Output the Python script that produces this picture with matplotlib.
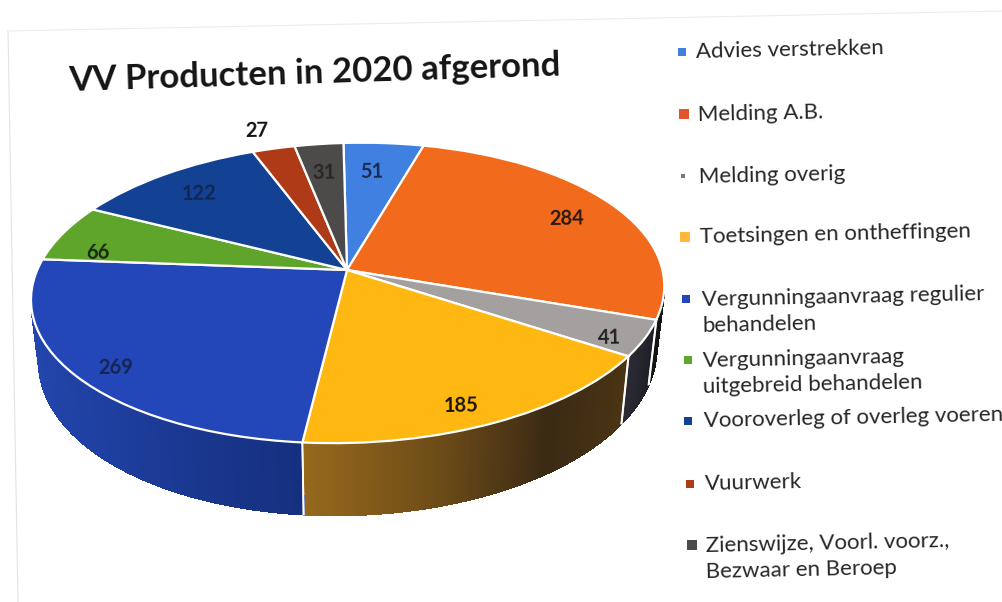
import numpy as np
import matplotlib
matplotlib.use("Agg")
import matplotlib.pyplot as plt
from matplotlib.collections import PolyCollection
from matplotlib.colors import LinearSegmentedColormap
from matplotlib.transforms import Transform

plt.rcParams['font.family'] = ['Lato', 'DejaVu Sans']

# data
categories = ["Advies verstrekken", "Melding A.B.", "Melding overig",
              "Toetsingen en ontheffingen", "Vergunningaanvraag regulier\nbehandelen",
              "Vergunningaanvraag\nuitgebreid behandelen", "Vooroverleg of overleg voeren",
              "Vuurwerk", "Zienswijze, Voorl. voorz.,\nBezwaar en Beroep"]
values = [51, 284, 41, 185, 269, 66, 122, 27, 31]
colors = ["#3f80e0", "#f26a1b", "#a5a0a0", "#ffb812", "#2347b8",
          "#5fa52b", "#134193", "#ae3a17", "#4d4a4a"]
side_colors = [None, ["#141414", "#141414"], ["#2c2c36", "#1e1e26"],
               ["#96691c", "#6f4d18", "#3b2a14", "#4a3413"],
               ["#2448b2", "#1f3f9f", "#15307f"], None, None, None, None]
label_xy = [(372, 172), (567, 219), (609, 338), (461, 406), (116, 368),
            (98, 253), (199, 194), (257, 131), (324, 173)]
label_colors = ["#1c2a50", "#2a1a10", "#222222", "#1a1408", "#16244f",
                "#1a2a10", "#12264f", "#111111", "#2a2626"]
legend_txt_xy = [(696, 52), (698, 115), (699, 177), (700, 237), (702, 313),
                 (703, 374), (704, 421), (705, 484), (706, 559)]
legend_mark_xy = [(682, 52), (684, 114), (683, 176), (685, 237), (686, 299),
                  (688, 360), (688, 421), (690, 484), (692, 545)]
legend_mark_size = [36, 50, 8, 50, 36, 36, 36, 36, 45]
legend_mark_col = ["#3f80e0", "#e2552a", "#777777", "#ffb83a", "#2347b8",
                   "#5fa52b", "#134193", "#ae3a17", "#4d4a4a"]

APEX = (347, 270)
RX, RY, K = 313, 146.5, 0.153
ROT = np.radians(1.6)


def project(x, y, drop=0.0, shrink=1.0):
    den = 1 + K * y
    px = RX * x * shrink / den
    py = -RY * y / den
    sx = APEX[0] + px * np.cos(ROT) + py * np.sin(ROT)
    sy = APEX[1] - px * np.sin(ROT) + py * np.cos(ROT) + drop
    return sx, sy


class Tilt(Transform):
    input_dims = 2
    output_dims = 2

    def transform_non_affine(self, pts):
        pts = np.asarray(pts)
        sx, sy = project(pts[:, 0], pts[:, 1])
        return np.column_stack([sx, sy])


fig = plt.figure(figsize=(10.03, 6.02), dpi=100)
ax = fig.add_axes([0, 0, 1, 1])
wedges, _ = ax.pie(values, colors=colors, startangle=90, counterclock=False,
                   radius=1, center=(0, 0),
                   wedgeprops=dict(edgecolor="white", linewidth=1.6))
ax.set_aspect("auto")
ax.set_xlim(0, 1003)
ax.set_ylim(602, 0)
ax.axis("off")

tilt = Tilt() + ax.transData
for w in wedges:
    w.set_transform(tilt)
    w.set_zorder(5)


def side_point(th):
    x, y = np.cos(th), np.sin(th)
    return project(x, y), project(x, y, drop=60 - 12 * y, shrink=0.975)


# front wall of the disc
CUT = -0.2
for w, sc in zip(wedges, side_colors):
    if sc is None:
        continue
    ang = np.radians(np.arange(w.theta1, w.theta2 + 0.5, 0.5))
    ang = ang[np.sin(ang) < CUT]
    cmap = LinearSegmentedColormap.from_list("side", sc)
    polys, cols = [], []
    for i in range(len(ang) - 1):
        a0, b0 = side_point(ang[i])
        a1, b1 = side_point(ang[i + 1])
        polys.append([a0, a1, b1, b0])
        cols.append(cmap(i / max(len(ang) - 2, 1)))
    ax.add_collection(PolyCollection(polys, facecolors=cols, edgecolors=cols,
                                     linewidths=1.0, antialiased=False, zorder=2))
    for th in (ang[0], ang[-1]):
        if np.sin(th) < -0.3:
            a, b = side_point(th)
            ax.plot([a[0], b[0]], [a[1], b[1]], color="white", lw=1.3, zorder=3)

for (x, y), v, c in zip(label_xy, values, label_colors):
    ax.text(x, y, str(v), ha="center", va="center", fontsize=14.5, fontweight="bold",
            color=c, rotation=1, zorder=6)

ax.text(315, 73, "VV Producten in 2020 afgerond", ha="center", va="center",
        fontsize=25, fontweight="bold", color="#141414", rotation=1.8,
        rotation_mode="anchor")

for (x, y), name in zip(legend_txt_xy, categories):
    ax.text(x, y, name, ha="left", va="center", fontsize=16, color="#262626",
            rotation=1.2, rotation_mode="anchor", linespacing=1.35)
ax.scatter([p[0] for p in legend_mark_xy], [p[1] for p in legend_mark_xy],
           s=legend_mark_size, c=legend_mark_col, marker="s", linewidths=0)

# edges of the scanned sheet
ax.plot([8, 18], [31, 602], color="#e4e4e4", lw=0.8)
ax.plot([8, 1003], [31, 11], color="#ececec", lw=0.8)

fig.savefig("out.png", dpi=100)
